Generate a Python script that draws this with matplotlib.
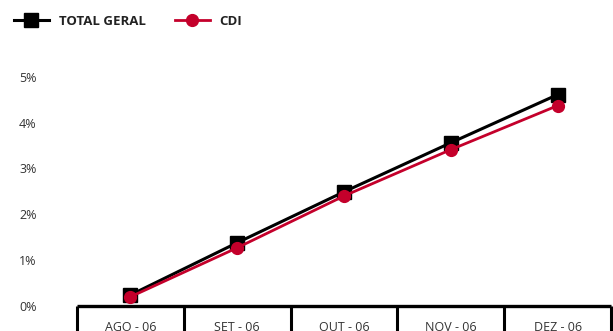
import matplotlib.pyplot as plt
from matplotlib.ticker import FixedLocator, FuncFormatter

meses = ["AGO - 06", "SET - 06", "OUT - 06", "NOV - 06", "DEZ - 06"]
total_geral = [0.24, 1.38, 2.49, 3.56, 4.61]
cdi = [0.20, 1.27, 2.40, 3.41, 4.37]

plt.rcParams["font.family"] = ["Open Sans", "DejaVu Sans"]

fig = plt.figure(figsize=(6.13, 3.31), dpi=100)
ax = fig.add_axes([77 / 613, 25 / 331, 534 / 613, 243 / 331])

x = list(range(len(meses)))
ax.plot(x, total_geral, color="black", lw=2.2, marker="s", markersize=10,
        label="TOTAL GERAL", zorder=3)
ax.plot(x, cdi, color="#c4002b", lw=2.0, marker="o", markersize=8.5,
        label="CDI", zorder=4)

ax.set_xlim(-0.5, len(meses) - 0.5)
ax.set_ylim(0, 5.3)

# y axis: labels only, no spine or tick marks
ax.set_yticks([0, 1, 2, 3, 4, 5])
ax.yaxis.set_major_formatter(FuncFormatter(lambda v, p: f"{int(v)}%"))
ax.tick_params(axis="y", length=0, pad=29, labelsize=9, labelcolor="#333333")

# x axis: boundary ticks hanging below the line, month names between them
ax.xaxis.set_major_locator(FixedLocator([i - 0.5 for i in range(len(meses) + 1)]))
ax.xaxis.set_minor_locator(FixedLocator(x))
ax.set_xticklabels([], minor=False)
ax.set_xticklabels(meses, minor=True)
ax.tick_params(axis="x", which="major", direction="out", length=18, width=2.2,
               color="black")
ax.tick_params(axis="x", which="minor", length=0, pad=11, labelsize=9,
               labelcolor="#333333")

for side in ["top", "right", "left"]:
    ax.spines[side].set_visible(False)
ax.spines["bottom"].set_linewidth(2.4)
ax.spines["bottom"].set_capstyle("butt")

leg = fig.legend(loc="upper left", bbox_to_anchor=(2 / 613, 1 - 3 / 331),
                 ncol=2, frameon=False, handlelength=2.65, handletextpad=0.75,
                 columnspacing=2.2, prop={"weight": "bold", "size": 9.5})
for t in leg.get_texts():
    t.set_color("#222222")

fig.savefig("out.png", dpi=100)
